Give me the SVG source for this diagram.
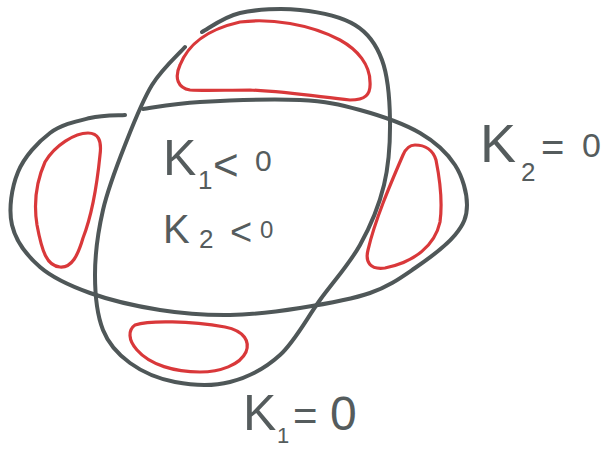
<svg xmlns="http://www.w3.org/2000/svg" width="614" height="450" viewBox="0 0 614 450">
<style>
.g{fill:none;stroke:#4f5758;stroke-width:4;stroke-linecap:round;stroke-linejoin:round}
.r{fill:none;stroke:#d9383a;stroke-width:3.2;stroke-linejoin:round}
.t{font-family:"Liberation Sans",Arial,sans-serif;fill:#555c5d}
</style>
<rect width="614" height="450" fill="#ffffff"/>
<g id="curve-k1">
<path class="g" d="M202,32 C208.3,28.8 223.7,16.7 240,13 C256.3,9.3 280.8,8 300,10 C319.2,12 341.3,16.7 355,25 C368.7,33.3 376.2,44.2 382,60 C387.8,75.8 389.7,99.2 390,120 C390.3,140.8 389,164.2 384,185 C379,205.8 370.7,225.8 360,245 C349.3,264.2 333.3,281.7 320,300 C306.7,318.3 295,341.3 280,355 C265,368.7 247.5,377.5 230,382 C212.5,386.5 191.7,385.2 175,382 C158.3,378.8 142,371.7 130,363 C118,354.3 108.8,344.7 103,330 C97.2,315.3 95,295 95,275 C95,255 98,231.7 103,210 C108,188.3 116.8,165.8 125,145 C133.2,124.2 142,101.3 152,85 C162,68.7 179.5,53.3 185,47"/>
</g>
<g id="curve-k2">
<path class="g" d="M143,109 C152.5,107.8 173.8,103.5 200,102 C226.2,100.5 273.3,98.7 300,100 C326.7,101.3 340,104.5 360,110 C380,115.5 404.2,123.8 420,133 C435.8,142.2 447.2,153 455,165 C462.8,177 467,193.3 467,205 C467,216.7 463.7,224.5 455,235 C446.3,245.5 429.2,258.3 415,268 C400.8,277.7 389.2,286.3 370,293 C350.8,299.7 323.3,304.3 300,308 C276.7,311.7 253.3,314.7 230,315 C206.7,315.3 183.3,313.7 160,310 C136.7,306.3 110,300.2 90,293 C70,285.8 53,278.3 40,267 C27,255.7 15.7,240.8 12,225 C8.3,209.2 11.7,187.3 18,172 C24.3,156.7 38,142 50,133 C62,124 77.5,121 90,118 C102.5,115 119.2,115.5 125,115"/>
</g>
<g id="region-top">
<path class="r" d="M190,90 C178,88 174,78 180,65 C188,45 205,30 240,22 C270,18 310,24 340,40 C358,50 370,65 370,82 C371,95 365,100 350,100 C320,97 290,92 250,90 C225,90 205,91 190,90 Z"/>
</g>
<g id="region-left">
<path class="r" d="M88,133 C98,133 102,140 100,155 C97,185 92,215 83,238 C78,255 72,268 60,267 C47,266 42,252 37,225 C33,200 37,180 45,162 C55,145 75,133 88,133 Z"/>
</g>
<g id="region-right">
<path class="r" d="M415,145 C425,145 433,150 436,160 C440,180 443,200 440,222 C435,245 415,262 385,268 C370,270 365,262 368,250 C375,220 390,185 403,155 C406,148 410,145 415,145 Z"/>
</g>
<g id="region-bottom">
<path class="r" d="M135,325 C150,320 190,321 225,327 C245,331 250,342 246,352 C240,365 220,372 200,372 C175,372 150,365 137,350 C128,340 128,330 135,325 Z"/>
</g>
<g id="label-inner">
<text class="t"><tspan x="163" y="175" font-size="50">K</tspan><tspan x="198" y="189" font-size="26">1</tspan><tspan x="213" y="180" font-size="44">&lt;</tspan><tspan x="255" y="171" font-size="30">0</tspan></text>
<text class="t"><tspan x="163" y="243" font-size="40">K</tspan><tspan x="199" y="248" font-size="26">2</tspan><tspan x="230" y="245" font-size="38">&lt;</tspan><tspan x="260" y="238" font-size="24">0</tspan></text>
</g>
<g id="label-k2">
<text class="t"><tspan x="480" y="162" font-size="54">K</tspan><tspan x="521" y="181" font-size="26">2</tspan><tspan x="541" y="161" font-size="40">=</tspan><tspan x="582" y="157" font-size="34">0</tspan></text>
</g>
<g id="label-k1">
<text class="t"><tspan x="243" y="430" font-size="50">K</tspan><tspan x="277" y="443" font-size="22">1</tspan><tspan x="293" y="430" font-size="42">=</tspan><tspan x="330" y="430" font-size="48">0</tspan></text>
</g>
</svg>
